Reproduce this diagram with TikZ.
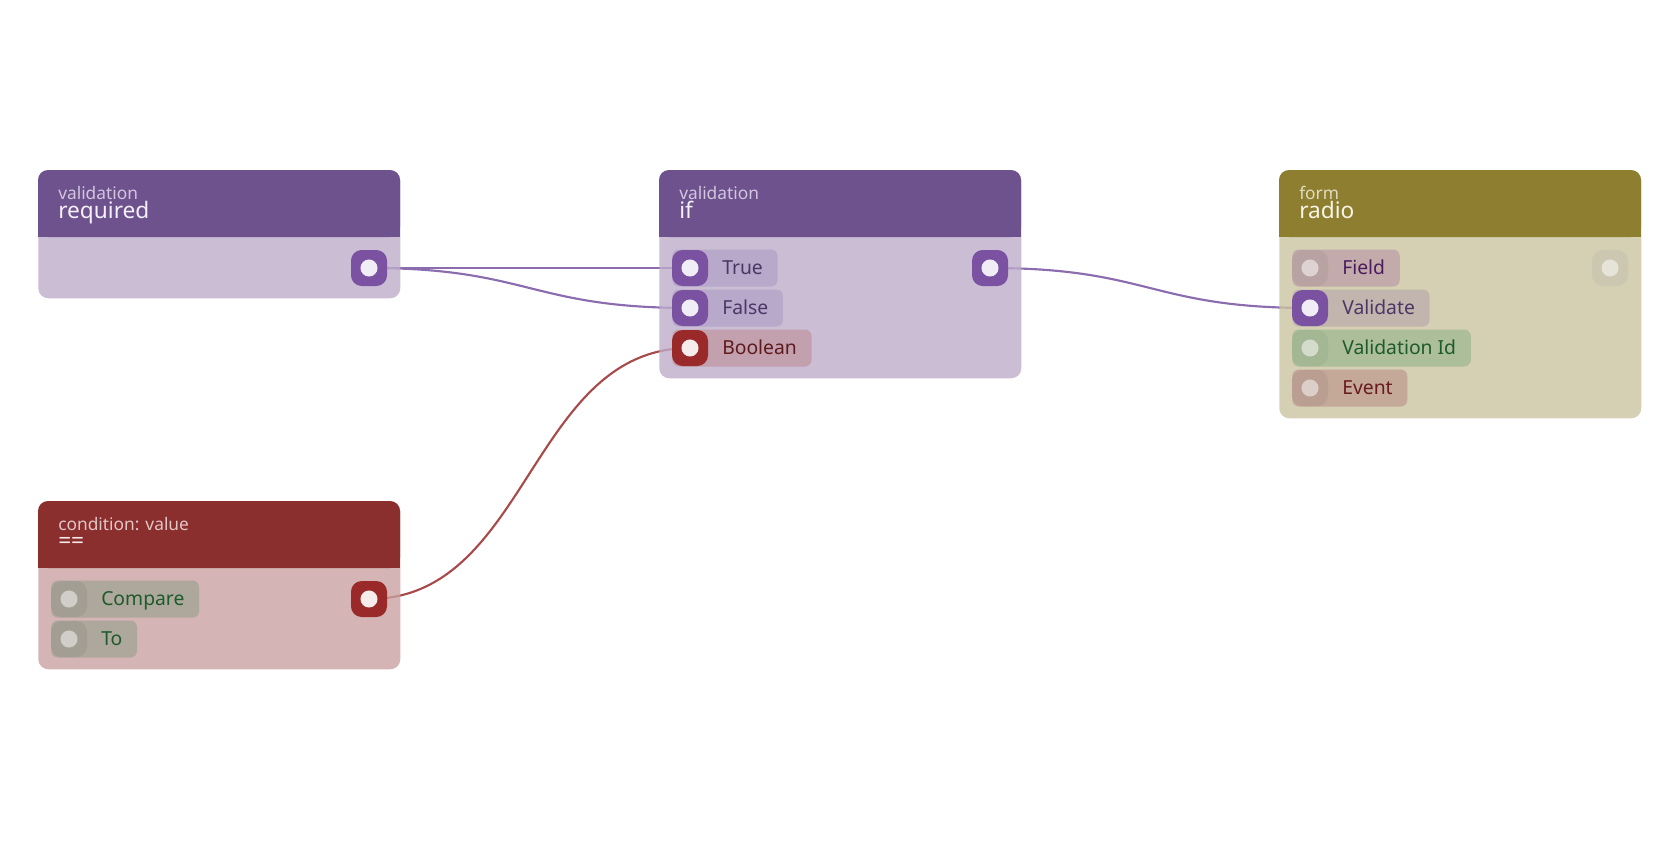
\documentclass[tikz,border=0pt]{standalone}
\usepackage{fontspec}
\setmainfont{Noto Sans}
\usetikzlibrary{positioning}

% validation (purple)
\definecolor{vhead}{HTML}{6E528E}
\definecolor{vbody}{HTML}{BDACC9}
\definecolor{vport}{HTML}{7A52A1}
\definecolor{vdot}{HTML}{F1EDF6}
\definecolor{vpill}{HTML}{B8A8CA}
\definecolor{vtext}{HTML}{4C3666}
\definecolor{vsub}{HTML}{D2C6DE}
\definecolor{vname}{HTML}{F4F0F8}
\definecolor{vwire}{HTML}{8B6CAF}
% condition (red)
\definecolor{chead}{HTML}{8A2E2E}
\definecolor{cbody}{HTML}{C9A1A1}
\definecolor{cport}{HTML}{9A2A2A}
\definecolor{cdot}{HTML}{F6ECEC}
\definecolor{cpill}{HTML}{C3A0AE}
\definecolor{ctext}{HTML}{5E1A1C}
\definecolor{csub}{HTML}{E2C6C6}
\definecolor{cname}{HTML}{F6EAEA}
\definecolor{cwire}{HTML}{A94A4A}
% form (olive)
\definecolor{fhead}{HTML}{8E7F30}
\definecolor{fbody}{HTML}{CBC3A0}
\definecolor{fsub}{HTML}{E2DBC0}
\definecolor{fname}{HTML}{F8F5E8}
\definecolor{fport}{HTML}{CCC7B0}
\definecolor{fdot}{HTML}{E6E4D9}
% idle inputs
\definecolor{fieldpill}{HTML}{C2ABAA}
\definecolor{fieldport}{HTML}{B9A2A2}
\definecolor{fielddot}{HTML}{DDD3D3}
\definecolor{fieldtext}{HTML}{4B1B5E}
\definecolor{valpill}{HTML}{C1B5AE}
\definecolor{idpill}{HTML}{ACBE9A}
\definecolor{idport}{HTML}{A3B794}
\definecolor{iddot}{HTML}{D3DCCB}
\definecolor{idtext}{HTML}{1D5A2C}
\definecolor{evpill}{HTML}{C4A898}
\definecolor{evport}{HTML}{BA9E92}
\definecolor{evdot}{HTML}{DCCFCA}
\definecolor{evtext}{HTML}{6A1A1E}
\definecolor{cmppill}{HTML}{ADA89B}
\definecolor{cmpport}{HTML}{A29E93}
\definecolor{cmpdot}{HTML}{D0CEC8}

\pgfdeclarelayer{wires}
\pgfsetlayers{wires,main}

\tikzset{
  block/.style={anchor=north west, inner sep=0pt, minimum width=271.5pt, fill=#1, fill opacity=0.8, rounded corners=7.5pt},
  port/.style 2 args={inner sep=0pt, minimum size=27pt, fill=#1, rounded corners=8pt,
    path picture={\fill[#2] (path picture bounding box.center) circle (6.4pt);}},
  pill/.style 2 args={anchor=west, inner xsep=0pt, inner ysep=0pt, minimum height=27.75pt,
    text height=10.4pt, text depth=0pt, fill=#1, text=#2, rounded corners=5pt,
    font=\fontsize{14.5pt}{17pt}\selectfont},
  headcat/.style={anchor=base west, inner sep=0pt, text=#1, font=\fontsize{13pt}{15pt}\selectfont},
  headname/.style={anchor=base west, inner sep=0pt, text=#1, font=\fontsize{17pt}{20pt}\selectfont},
  wire/.style={draw=#1, line width=1.6pt},
}

\begin{document}
\begin{tikzpicture}[x=0.75pt,y=-0.75pt]
\useasboundingbox (0,0) rectangle (1680,840);

% validation: required
 \node[block=vbody, minimum height=96pt] (required) at (38,170) {};
 \fill[vhead, rounded corners=7.5pt] (38,170) rectangle (400,237);
 \fill[vhead] (38,225) rectangle (400,237);
 \node[headcat=vsub] (reqcat) at (58,199) {validation};
 \node[headname=vname] (reqname) at (58,218) {required};
 \node[port={vport}{vdot}] (reqout) at (369,268) {};

% validation: if
 \node[block=vbody, minimum height=156pt] (if) at (659,170) {};
 \fill[vhead, rounded corners=7.5pt] (659,170) rectangle (1021,237);
 \fill[vhead] (659,225) rectangle (1021,237);
 \node[headcat=vsub] (ifcat) at (679,199) {validation};
 \node[headname=vname] (ifname) at (679,218) {if};
 \node[pill={vpill}{vtext}] (iftruepill) at (672,268) {\hspace*{37.5pt}True\hspace*{11pt}};
 \node[port={vport}{vdot}] (iftrue) at (690,268) {};
 \node[pill={vpill}{vtext}] (iffalsepill) at (672,308) {\hspace*{37.5pt}False\hspace*{11pt}};
 \node[port={vport}{vdot}] (iffalse) at (690,308) {};
 \node[pill={cpill}{ctext}] (ifboolpill) at (672,348) {\hspace*{37.5pt}Boolean\hspace*{11pt}};
 \node[port={cport}{cdot}] (ifbool) at (690,348) {};
 \node[port={vport}{vdot}] (ifout) at (990,268) {};

% form: radio
 \node[block=fbody, minimum height=186pt] (radio) at (1279,170) {};
 \fill[fhead, rounded corners=7.5pt] (1279,170) rectangle (1641,237);
 \fill[fhead] (1279,225) rectangle (1641,237);
 \node[headcat=fsub] (radiocat) at (1299,199) {form};
 \node[headname=fname] (radioname) at (1299,218) {radio};
 \node[pill={fieldpill}{fieldtext}] (radiofieldpill) at (1292,268) {\hspace*{37.5pt}Field\hspace*{11pt}};
 \node[port={fieldport}{fielddot}] (radiofield) at (1310,268) {};
 \node[pill={valpill}{vtext}] (radiovalpill) at (1292,308) {\hspace*{37.5pt}Validate\hspace*{11pt}};
 \node[port={vport}{vdot}] (radioval) at (1310,308) {};
 \node[pill={idpill}{idtext}] (radioidpill) at (1292,348) {\hspace*{37.5pt}Validation Id\hspace*{11pt}};
 \node[port={idport}{iddot}] (radioid) at (1310,348) {};
 \node[pill={evpill}{evtext}] (radioevpill) at (1292,388) {\hspace*{37.5pt}Event\hspace*{11pt}};
 \node[port={evport}{evdot}] (radioev) at (1310,388) {};
 \node[port={fport}{fdot}] (radioout) at (1610,268) {};

% condition: ==
 \node[block=cbody, minimum height=126pt] (cond) at (38,501) {};
 \fill[chead, rounded corners=7.5pt] (38,501) rectangle (400,568);
 \fill[chead] (38,556) rectangle (400,568);
 \node[headcat=csub] (condcat) at (58,530) {condition: value};
 \node[headname=cname] (condname) at (58,548) {==};
 \node[pill={cmppill}{idtext}] (condcmppill) at (51,599) {\hspace*{37.5pt}Compare\hspace*{11pt}};
 \node[port={cmpport}{cmpdot}] (condcmp) at (69,599) {};
 \node[pill={cmppill}{idtext}] (condtopill) at (51,639) {\hspace*{37.5pt}To\hspace*{11pt}};
 \node[port={cmpport}{cmpdot}] (condto) at (69,639) {};
 \node[port={cport}{cdot}] (condout) at (369,599) {};

% edges
 \begin{pgfonlayer}{wires}
 \draw[wire=vwire] (reqout.center) -- (iftrue.center);
 \draw[wire=vwire] (reqout.center) .. controls +(160,0) and +(-160,0) .. (iffalse.center);
 \draw[wire=vwire] (ifout.center) .. controls +(160,0) and +(-160,0) .. (radioval.center);
 \draw[wire=cwire] (condout.center) .. controls +(160,0) and +(-160,0) .. (ifbool.center);
 \end{pgfonlayer}
\end{tikzpicture}
\end{document}
